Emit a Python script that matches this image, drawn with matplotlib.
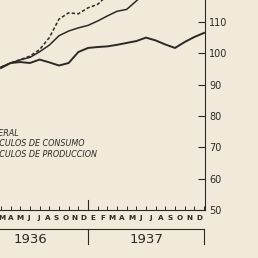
import matplotlib.pyplot as plt

# month index: 1 = Jan 1936 ... 24 = Dec 1937
months_general = list(range(3, 19))
general = [95.6, 96.9, 97.9, 98.7, 100.5, 102.6, 105.6, 107.1, 108.1, 108.9,
           110.3, 111.9, 113.4, 114.0, 116.7, 119.5]

months_consumo = list(range(3, 15))
consumo = [95.6, 96.9, 98.0, 99.1, 101.2, 105.0, 110.9, 112.9, 112.6, 114.5,
           115.6, 118.5]

months_produccion = list(range(3, 25))
produccion = [95.3, 96.9, 97.2, 96.9, 98.0, 97.1, 96.1, 96.9, 100.4, 101.7,
              102.0, 102.2, 102.7, 103.3, 103.9, 105.0, 104.1, 102.8, 101.7,
              103.6, 105.2, 106.5]

month_letters = list("EFMAMJJASOND") * 2
years = ["1936", "1937"]
y_ticks = [50, 60, 70, 80, 90, 100, 110]
legend_labels = ["GENERAL", "ARTICULOS DE CONSUMO", "ARTICULOS DE PRODUCCION"]

ink = "#2b2926"
paper = "#f1eadb"

fig = plt.figure(figsize=(2.58, 2.58), dpi=100, facecolor=paper)
ax = fig.add_axes([0.0, 48 / 258, 205 / 258, 210 / 258])
ax.set_facecolor(paper)

ax.plot(months_general, general, color=ink, lw=1.1)
ax.plot(months_consumo, consumo, color=ink, lw=1.1, dashes=(2.2, 1.4))
ax.plot(months_produccion, produccion, color=ink, lw=1.4)

ax.set_xlim(2.9, 24.1)
ax.set_ylim(50, 117)

for side in ["top", "left"]:
    ax.spines[side].set_visible(False)
for side in ["right", "bottom"]:
    ax.spines[side].set_color(ink)
    ax.spines[side].set_linewidth(0.8)

# value axis on the right, ticks pointing into the plot
ax.yaxis.tick_right()
ax.set_yticks(y_ticks)
ax.tick_params(axis="y", direction="in", length=5, width=0.8, pad=3,
               labelsize=7, colors=ink)

# month ticks
ax.set_xticks(range(3, 25))
ax.tick_params(axis="x", direction="in", length=3, width=0.7, colors=ink,
               labelbottom=False)
ax.plot([12, 12], [50, 53.2], color=ink, lw=0.8, clip_on=False)

# hand lettered month row: the 1936 letters sit a little tighter than the ticks
for i, letter in enumerate(month_letters):
    if i < 2:
        continue  # January and February 1936 lie outside the crop
    x = i + 0.5
    if i < 12:
        x = 12 - (12 - x) * 0.935
    ax.text(x, 47.6, letter, ha="center", va="center", fontsize=5.2,
            fontweight="bold", color=ink, clip_on=False)

# year bracket
ax.plot([0, 24], [43.9, 43.9], color=ink, lw=0.8, clip_on=False)
for k in [0, 12, 24]:
    ax.plot([k, k], [43.9, 39.1], color=ink, lw=0.8, clip_on=False)
for i, year in enumerate(years):
    ax.text(6 + 12 * i, 40.7, year, ha="center", va="center", fontsize=9.5,
            color=ink, clip_on=False)

# legend text (line keys fall outside the crop)
for label, y in zip(legend_labels, [74.55, 71.2, 67.85]):
    ax.text(0.95, y, label, ha="left", va="center", fontsize=5.8,
            style="italic", color=ink, clip_on=False)

fig.savefig("out.png", dpi=100, facecolor=paper)
